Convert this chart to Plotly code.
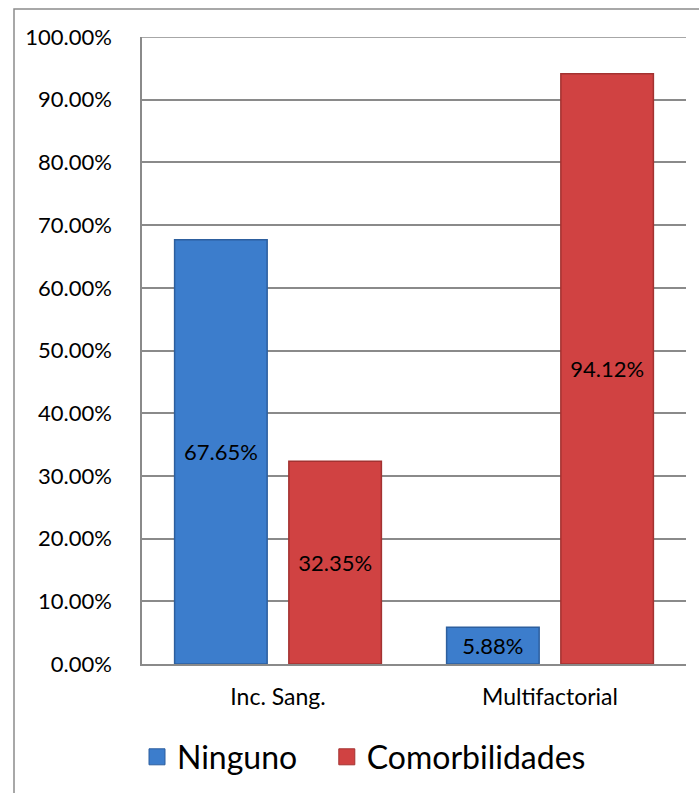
import plotly.graph_objects as go

# Categories and series values (fractions)
categories = ["Inc. Sang.", "Multifactorial"]
series_names = ["Ninguno", "Comorbilidades"]
ninguno = [0.6765, 0.0588]
comorbilidades = [0.3235, 0.9412]
y_ticks = [0.0, 0.1, 0.2, 0.3, 0.4, 0.5, 0.6, 0.7, 0.8, 0.9, 1.0]

FONT = "Lato"
GRID = "#8a8a8a"
BLUE, BLUE_EDGE = "#3c7dcc", "#2d5f9e"
RED, RED_EDGE = "#d04242", "#a33231"

NBSP = "\u00a0"
legend_labels = [series_names[0] + NBSP * 3, series_names[1]]

fig = go.Figure()
for name, label, vals, col, edge in [
        (series_names[0], legend_labels[0], ninguno, BLUE, BLUE_EDGE),
        (series_names[1], legend_labels[1], comorbilidades, RED, RED_EDGE)]:
    fig.add_trace(go.Bar(
        name=name, x=categories, y=vals, showlegend=False, legendgroup=name,
        marker=dict(color=col, line=dict(color=edge, width=1.5)),
        text=[f"{v:.2%}" for v in vals], textposition="inside",
        insidetextanchor="middle", textangle=0,
        textfont=dict(family=FONT, size=22, color="black"),
    ))
    # legend entry with a square swatch
    fig.add_trace(go.Scatter(
        name=label, x=[None], y=[None], mode="markers", legendgroup=name,
        marker=dict(symbol="square", size=16, color=col,
                    line=dict(color=edge, width=1)),
    ))

L, R, T, B = 142, 13, 37, 129
W, H = 699, 793
pw, ph = W - L - R, H - T - B

# outer chart frame (left and top edges)
fx = (14 - L) / pw
fy = 1 + (T - 9) / ph
fb = -(B + 5) / ph
fr = 1 + (R + 5) / pw
fig.add_shape(type="path", xref="paper", yref="paper",
              path=f"M {fx} {fb} L {fx} {fy} L {fr} {fy}",
              line=dict(color="#8c8c8c", width=1.5), layer="below")
# top gridline at 100%
fig.add_shape(type="line", xref="paper", yref="y", x0=0, x1=1, y0=1, y1=1,
              line=dict(color=GRID, width=1.5), layer="below")

fig.update_layout(
    width=W, height=H,
    margin=dict(l=L, r=R, t=T, b=B, pad=0, autoexpand=False),
    paper_bgcolor="white", plot_bgcolor="white",
    barmode="group", bargap=0.16, bargroupgap=0.19,
    font=dict(family=FONT, color="black"),
    showlegend=True,
    legend=dict(orientation="h", x=(364 - L) / pw, xanchor="center",
                y=(664 - 757) / ph, yanchor="middle",
                font=dict(family=FONT, size=32, color="black"),
                itemwidth=30, traceorder="normal"),
    xaxis=dict(showline=True, linecolor=GRID, linewidth=1.5, ticks="",
               tickfont=dict(family=FONT, size=23, color="black"),
               ticklabelstandoff=12, showgrid=False),
    yaxis=dict(range=[0, 1], tickvals=y_ticks, tickformat=".2%",
               showline=True, linecolor=GRID, linewidth=1.5,
               showgrid=True, gridcolor=GRID, gridwidth=1.5,
               ticks="", ticklabelstandoff=24,
               tickfont=dict(family=FONT, size=22, color="black"),
               zeroline=False),
)

fig.write_html("out.html")
